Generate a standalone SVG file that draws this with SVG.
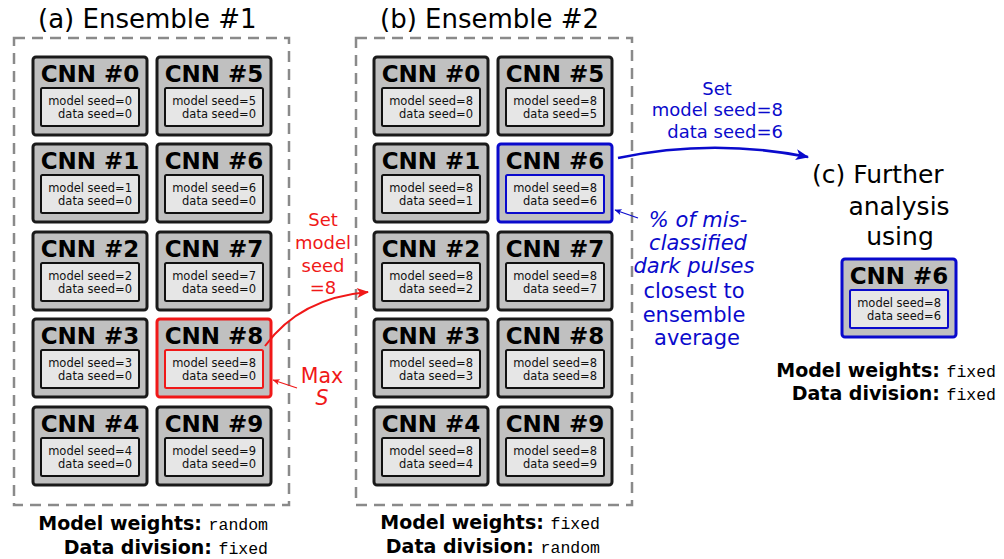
<svg xmlns="http://www.w3.org/2000/svg" width="1004" height="559" viewBox="0 0 1004 559">
<style>
.ens{fill:none;stroke:#8a8a8a;stroke-width:2.5;stroke-dasharray:11 7}
.o{fill:#c0c0c0;stroke:#1a1a1a;stroke-width:3}
.i{fill:#e6e6e6;stroke:#111;stroke-width:2}
.red .o,.red .i{stroke:#f01818}
.blue .o,.blue .i{stroke:#0a0acc}
.t{font-family:"DejaVu Sans",sans-serif;font-weight:bold;font-size:23px;fill:#000;text-anchor:middle}
.s{font-family:"DejaVu Sans",sans-serif;font-size:11.5px;fill:#111;text-anchor:end}
.ttl{font-family:"DejaVu Sans",sans-serif;font-size:26px;fill:#000}
.lb{font-family:"DejaVu Sans",sans-serif;font-weight:bold;font-size:19px;fill:#000}
.mono{font-family:"Liberation Mono",monospace;font-weight:normal;font-size:16.5px}
.rt{font-family:"DejaVu Sans",sans-serif;font-size:18px;fill:#f01818;text-anchor:middle}
.rm{font-family:"DejaVu Sans",sans-serif;font-size:20.5px;fill:#f01818;text-anchor:middle}
.bt{font-family:"DejaVu Sans",sans-serif;font-size:18px;fill:#0a0acc}
.bd{font-family:"DejaVu Sans",sans-serif;font-size:21px;fill:#0a0acc;text-anchor:middle}
.ct{font-family:"DejaVu Sans",sans-serif;font-size:25px;fill:#000}
</style>
<defs>
<g id="box"><rect class="o" x="0" y="0" width="114" height="78" rx="3"/><rect class="i" x="8" y="31" width="98" height="38" rx="1.5"/></g>
<marker id="ar" viewBox="0 0 12 10" refX="11" refY="5" markerWidth="13" markerHeight="10" markerUnits="userSpaceOnUse" orient="auto"><path d="M0,0 L12,5 L0,10 L3,5 Z" fill="#f01818"/></marker>
<marker id="ab" viewBox="0 0 12 10" refX="11" refY="5" markerWidth="15" markerHeight="11" markerUnits="userSpaceOnUse" orient="auto"><path d="M0,0 L12,5 L0,10 L3,5 Z" fill="#0a0acc"/></marker>
<marker id="ars" viewBox="0 0 12 10" refX="11" refY="5" markerWidth="8" markerHeight="6" markerUnits="userSpaceOnUse" orient="auto"><path d="M0,0 L12,5 L0,10 L3,5 Z" fill="#f01818"/></marker>
<marker id="abs" viewBox="0 0 12 10" refX="11" refY="5" markerWidth="8" markerHeight="6" markerUnits="userSpaceOnUse" orient="auto"><path d="M0,0 L12,5 L0,10 L3,5 Z" fill="#0a0acc"/></marker>
</defs>

<g id="ensemble-a">
<rect class="ens" x="14" y="38" width="275" height="467"/>
<text class="ttl" x="38" y="28">(a) Ensemble #1</text>
<text class="lb" x="268" y="530" text-anchor="end">Model weights: <tspan class="mono">random</tspan></text>
<text class="lb" x="268" y="554" text-anchor="end">Data division: <tspan class="mono">fixed</tspan></text>
</g>

<g id="a-cnn0" transform="translate(33,57)"><use href="#box"/><text class="t" x="57" y="25">CNN #0</text><text class="s" x="99" y="48">model seed=0</text><text class="s" x="99" y="61">data seed=0</text></g>
<g id="a-cnn1" transform="translate(33,144)"><use href="#box"/><text class="t" x="57" y="25">CNN #1</text><text class="s" x="99" y="48">model seed=1</text><text class="s" x="99" y="61">data seed=0</text></g>
<g id="a-cnn2" transform="translate(33,232)"><use href="#box"/><text class="t" x="57" y="25">CNN #2</text><text class="s" x="99" y="48">model seed=2</text><text class="s" x="99" y="61">data seed=0</text></g>
<g id="a-cnn3" transform="translate(33,319)"><use href="#box"/><text class="t" x="57" y="25">CNN #3</text><text class="s" x="99" y="48">model seed=3</text><text class="s" x="99" y="61">data seed=0</text></g>
<g id="a-cnn4" transform="translate(33,407)"><use href="#box"/><text class="t" x="57" y="25">CNN #4</text><text class="s" x="99" y="48">model seed=4</text><text class="s" x="99" y="61">data seed=0</text></g>
<g id="a-cnn5" transform="translate(157,57)"><use href="#box"/><text class="t" x="57" y="25">CNN #5</text><text class="s" x="99" y="48">model seed=5</text><text class="s" x="99" y="61">data seed=0</text></g>
<g id="a-cnn6" transform="translate(157,144)"><use href="#box"/><text class="t" x="57" y="25">CNN #6</text><text class="s" x="99" y="48">model seed=6</text><text class="s" x="99" y="61">data seed=0</text></g>
<g id="a-cnn7" transform="translate(157,232)"><use href="#box"/><text class="t" x="57" y="25">CNN #7</text><text class="s" x="99" y="48">model seed=7</text><text class="s" x="99" y="61">data seed=0</text></g>
<g id="a-cnn8" class="red" transform="translate(157,319)"><rect class="o" x="0" y="0" width="114" height="78" rx="3"/><rect class="i" x="8" y="31" width="98" height="38" rx="1.5"/><text class="t" x="57" y="25">CNN #8</text><text class="s" x="99" y="48">model seed=8</text><text class="s" x="99" y="61">data seed=0</text></g>
<g id="a-cnn9" transform="translate(157,407)"><use href="#box"/><text class="t" x="57" y="25">CNN #9</text><text class="s" x="99" y="48">model seed=9</text><text class="s" x="99" y="61">data seed=0</text></g>

<g id="ensemble-b">
<rect class="ens" x="356" y="38" width="276" height="467"/>
<text class="ttl" x="380" y="28">(b) Ensemble #2</text>
<text class="lb" x="600" y="529" text-anchor="end">Model weights: <tspan class="mono">fixed</tspan></text>
<text class="lb" x="600" y="553" text-anchor="end">Data division: <tspan class="mono">random</tspan></text>
</g>

<g id="b-cnn0" transform="translate(374,57)"><use href="#box"/><text class="t" x="57" y="25">CNN #0</text><text class="s" x="99" y="48">model seed=8</text><text class="s" x="99" y="61">data seed=0</text></g>
<g id="b-cnn1" transform="translate(374,144)"><use href="#box"/><text class="t" x="57" y="25">CNN #1</text><text class="s" x="99" y="48">model seed=8</text><text class="s" x="99" y="61">data seed=1</text></g>
<g id="b-cnn2" transform="translate(374,232)"><use href="#box"/><text class="t" x="57" y="25">CNN #2</text><text class="s" x="99" y="48">model seed=8</text><text class="s" x="99" y="61">data seed=2</text></g>
<g id="b-cnn3" transform="translate(374,319)"><use href="#box"/><text class="t" x="57" y="25">CNN #3</text><text class="s" x="99" y="48">model seed=8</text><text class="s" x="99" y="61">data seed=3</text></g>
<g id="b-cnn4" transform="translate(374,407)"><use href="#box"/><text class="t" x="57" y="25">CNN #4</text><text class="s" x="99" y="48">model seed=8</text><text class="s" x="99" y="61">data seed=4</text></g>
<g id="b-cnn5" transform="translate(498,57)"><use href="#box"/><text class="t" x="57" y="25">CNN #5</text><text class="s" x="99" y="48">model seed=8</text><text class="s" x="99" y="61">data seed=5</text></g>
<g id="b-cnn6" class="blue" transform="translate(498,144)"><rect class="o" x="0" y="0" width="114" height="78" rx="3"/><rect class="i" x="8" y="31" width="98" height="38" rx="1.5"/><text class="t" x="57" y="25">CNN #6</text><text class="s" x="99" y="48">model seed=8</text><text class="s" x="99" y="61">data seed=6</text></g>
<g id="b-cnn7" transform="translate(498,232)"><use href="#box"/><text class="t" x="57" y="25">CNN #7</text><text class="s" x="99" y="48">model seed=8</text><text class="s" x="99" y="61">data seed=7</text></g>
<g id="b-cnn8" transform="translate(498,319)"><use href="#box"/><text class="t" x="57" y="25">CNN #8</text><text class="s" x="99" y="48">model seed=8</text><text class="s" x="99" y="61">data seed=8</text></g>
<g id="b-cnn9" transform="translate(498,407)"><use href="#box"/><text class="t" x="57" y="25">CNN #9</text><text class="s" x="99" y="48">model seed=8</text><text class="s" x="99" y="61">data seed=9</text></g>

<g id="further-c">
<text class="ct" x="812" y="183">(c) Further</text>
<text class="ct" x="899" y="215" text-anchor="middle">analysis</text>
<text class="ct" x="900" y="245" text-anchor="middle">using</text>
<g id="c-cnn6" class="blue" transform="translate(842,259)"><rect class="o" x="0" y="0" width="114" height="78" rx="3"/><rect class="i" x="8" y="31" width="98" height="38" rx="1.5"/><text class="t" x="57" y="25">CNN #6</text><text class="s" x="99" y="48">model seed=8</text><text class="s" x="99" y="61">data seed=6</text></g>
<text class="lb" x="996" y="377" text-anchor="end">Model weights: <tspan class="mono">fixed</tspan></text>
<text class="lb" x="996" y="400" text-anchor="end">Data division: <tspan class="mono">fixed</tspan></text>
</g>

<g id="connectors">
<path d="M265,346 Q300,298 368,292" fill="none" stroke="#f01818" stroke-width="2" marker-end="url(#ar)"/>
<path d="M297,388 L273,380" fill="none" stroke="#f01818" stroke-width="1.2" marker-end="url(#ars)"/>
<path d="M618,158 Q712,138 808,157" fill="none" stroke="#0a0acc" stroke-width="2.5" marker-end="url(#ab)"/>
<path d="M638,218 L615,210" fill="none" stroke="#0a0acc" stroke-width="1.2" marker-end="url(#abs)"/>
</g>

<g id="labels">
<text class="rt" x="323" y="226">Set</text>
<text class="rt" x="323" y="249">model</text>
<text class="rt" x="323" y="272">seed</text>
<text class="rt" x="323" y="294">=8</text>
<text class="rm" x="322" y="383">Max</text>
<text class="rm" x="322" y="405" font-style="italic">S</text>
<text class="bt" x="717" y="95" text-anchor="middle">Set</text>
<text class="bt" x="783" y="116" text-anchor="end">model seed=8</text>
<text class="bt" x="783" y="138" text-anchor="end">data seed=6</text>
<text class="bd" x="698" y="227" font-style="italic">% of mis-</text>
<text class="bd" x="698" y="250" font-style="italic">classified</text>
<text class="bd" x="694" y="273" font-style="italic">dark pulses</text>
<text class="bd" x="694" y="298">closest to</text>
<text class="bd" x="694" y="322">ensemble</text>
<text class="bd" x="697" y="345">average</text>
</g>
</svg>
